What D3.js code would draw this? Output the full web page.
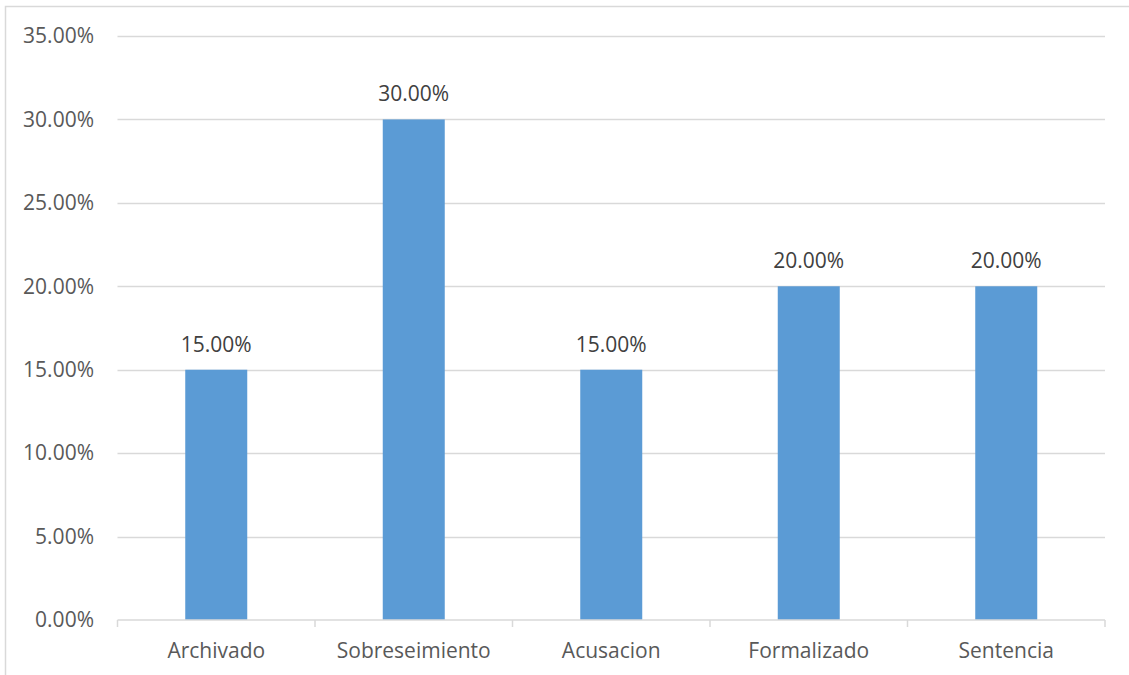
<!DOCTYPE html>
<html>
<head>
<meta charset="utf-8">
<script src="https://cdn.jsdelivr.net/npm/d3@7"></script>
<style>
  html, body { margin: 0; padding: 0; background: #fff; }
  svg { display: block; }
  text { font-family: "Open Sans", "Noto Sans", sans-serif; fill: #595959; }
</style>
</head>
<body>
<svg id="chart" width="1129" height="675"></svg>
<script>
// Case outcomes, share of total
const categories = ["Archivado", "Sobreseimiento", "Acusacion", "Formalizado", "Sentencia"];
const values = [0.15, 0.30, 0.15, 0.20, 0.20];
const yTicks = [0, 0.05, 0.10, 0.15, 0.20, 0.25, 0.30, 0.35];

const svg = d3.select("#chart");
const W = 1129, H = 675;
const plot = { left: 117.5, right: 1105, top: 36, bottom: 620 };
const FS = 21;

// outer chart frame
svg.append("rect")
  .attr("x", 5.5).attr("y", 6.5)
  .attr("width", W + 10).attr("height", H + 10)
  .attr("fill", "none").attr("stroke", "#d9d9d9").attr("stroke-width", 1.5);

const x = d3.scaleBand().domain(categories).range([plot.left, plot.right]).paddingInner(0).paddingOuter(0);
const y = d3.scaleLinear().domain([0, 0.35]).range([plot.bottom, plot.top]);
const fmt = d => (d * 100).toFixed(2) + "%";

// horizontal gridlines
svg.append("g")
  .selectAll("line").data(yTicks.filter(d => d > 0)).join("line")
  .attr("x1", plot.left).attr("x2", plot.right)
  .attr("y1", d => Math.round(y(d)) + 0.5).attr("y2", d => Math.round(y(d)) + 0.5)
  .attr("stroke", "#d9d9d9").attr("stroke-width", 1.5);

// y axis labels
const yAxis = d3.axisLeft(y).tickValues(yTicks).tickFormat(fmt).tickSize(0).tickPadding(0);
const gy = svg.append("g").attr("transform", `translate(${94},0)`).call(yAxis);
gy.select(".domain").remove();
gy.selectAll("text").attr("font-size", FS).attr("fill", "#595959")
  .style("font-family", '"Open Sans", "Noto Sans", sans-serif');

// bars
const barW = 62;
svg.append("g").selectAll("rect").data(categories).join("rect")
  .attr("x", (d) => x(d) + x.bandwidth() / 2 - barW / 2)
  .attr("width", barW)
  .attr("y", (d, i) => y(values[i]))
  .attr("height", (d, i) => y(0) - y(values[i]))
  .attr("fill", "#5b9bd5");

// value labels
svg.append("g").selectAll("text").data(categories).join("text")
  .attr("x", d => x(d) + x.bandwidth() / 2)
  .attr("y", (d, i) => y(values[i]) - 18)
  .attr("text-anchor", "middle")
  .attr("font-size", FS)
  .style("fill", "#404040")
  .text((d, i) => fmt(values[i]));

// x axis with category boundary ticks
const gx = svg.append("g").attr("transform", `translate(0,${plot.bottom})`);
gx.append("line").attr("x1", plot.left).attr("x2", plot.right)
  .attr("y1", 0).attr("y2", 0).attr("stroke", "#d9d9d9").attr("stroke-width", 1.5);
const bounds = categories.map(c => x(c)).concat([plot.right]);
gx.selectAll("line.tick").data(bounds).join("line").attr("class", "tick")
  .attr("x1", d => d).attr("x2", d => d).attr("y1", 0).attr("y2", 7)
  .attr("stroke", "#d9d9d9").attr("stroke-width", 1.5);
gx.selectAll("text").data(categories).join("text")
  .attr("x", d => x(d) + x.bandwidth() / 2)
  .attr("y", 38)
  .attr("text-anchor", "middle")
  .attr("font-size", FS)
  .text(d => d);
</script>
</body>
</html>
